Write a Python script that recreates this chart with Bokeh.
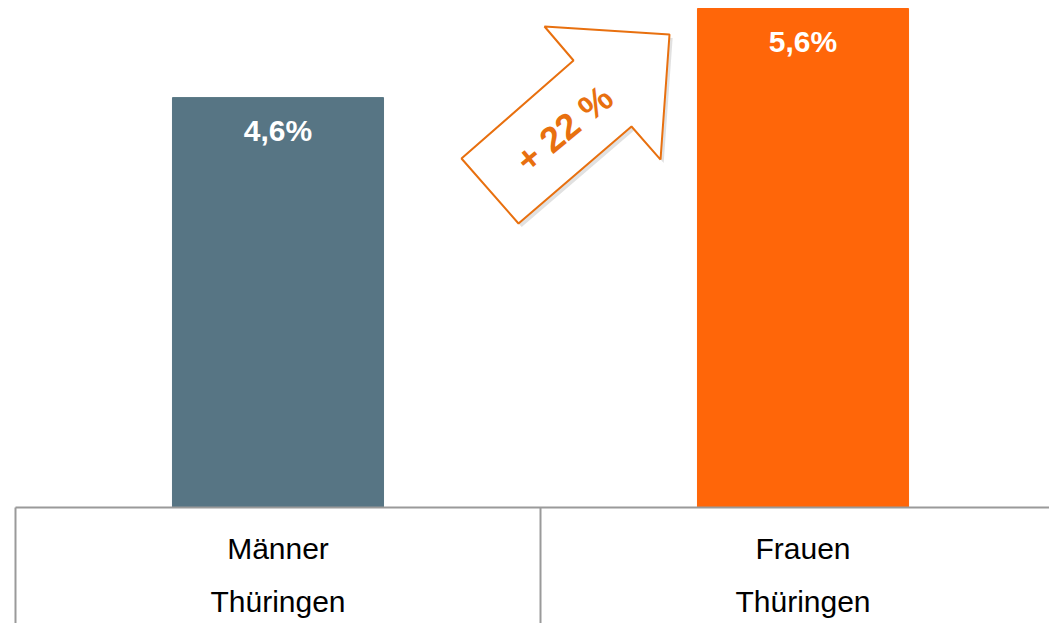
from bokeh.plotting import figure
from bokeh.models import Range1d, ColumnDataSource
from bokeh.core.properties import value
from bokeh.embed import file_html
from bokeh.resources import INLINE

# ---- data ----
line1 = ["Männer", "Frauen"]
line2 = ["Thüringen", "Thüringen"]
values = [4.6, 5.6]
value_labels = ["4,6%", "5,6%"]
bar_colors = ["#577584", "#FF6609"]
arrow_text = "+ 22 %"

# arrow annotation outline (data units)
arrow_x = [0.8495, 1.0629, 1.0076, 1.2457, 1.2286, 1.1733, 0.9581]
arrow_y = [3.917, 5.0165, 5.398, 5.308, 3.905, 4.2759, 3.187]

centers = [i + 0.5 for i in range(len(values))]
y_min = -1.3018
x_max = 1.9695

p = figure(width=1049, height=623, output_backend="svg", toolbar_location=None,
           x_range=Range1d(-0.02857, x_max), y_range=Range1d(y_min, 5.6898),
           min_border=0, min_border_left=0, min_border_right=0,
           min_border_top=0, min_border_bottom=0)
p.axis.visible = False
p.grid.visible = False
p.outline_line_color = None
p.background_fill_color = "white"

src = ColumnDataSource(dict(x=centers, top=values, color=bar_colors,
                            lab=value_labels,
                            ly=[v - 0.37 for v in values],
                            l1=line1, l2=line2))

p.vbar(x="x", top="top", bottom=0, width=0.402, color="color", source=src)

p.text(x="x", y="ly", text="lab", source=src, text_align="center",
       text_baseline="alphabetic", text_color="white",
       text_font=value("Liberation Sans"), text_font_style="bold",
       text_font_size="30px")

# axis line and separators
p.segment(x0=[0], y0=[0], x1=[x_max + 0.05], y1=[0],
          line_color="#9a9a9a", line_width=2)
p.segment(x0=[0, 1, 2], y0=[0, 0, 0], x1=[0, 1, 2], y1=[y_min] * 3,
          line_color="#9a9a9a", line_width=2)

# category labels
p.text(x="x", y=-0.461, text="l1", source=src, text_align="center",
       text_baseline="alphabetic", text_color="black",
       text_font=value("Liberation Sans"), text_font_size="30px")
p.text(x="x", y=-1.056, text="l2", source=src, text_align="center",
       text_baseline="alphabetic", text_color="black",
       text_font=value("Liberation Sans"), text_font_size="30px")

# arrow with soft shadow
p.patch([x + 0.006 for x in arrow_x], [y - 0.04 for y in arrow_y],
        fill_color="#888888", fill_alpha=0.25, line_color=None)
p.patch(arrow_x, arrow_y, fill_color="white", line_color="#E8700F", line_width=2)
p.text(x=[1.045], y=[4.25], text=[arrow_text], angle=0.69,
       text_align="center", text_baseline="middle", text_color="#E8700F",
       text_font=value("Liberation Sans"), text_font_style="bold",
       text_font_size="36px")

open("out.html", "w").write(file_html(p, INLINE))
